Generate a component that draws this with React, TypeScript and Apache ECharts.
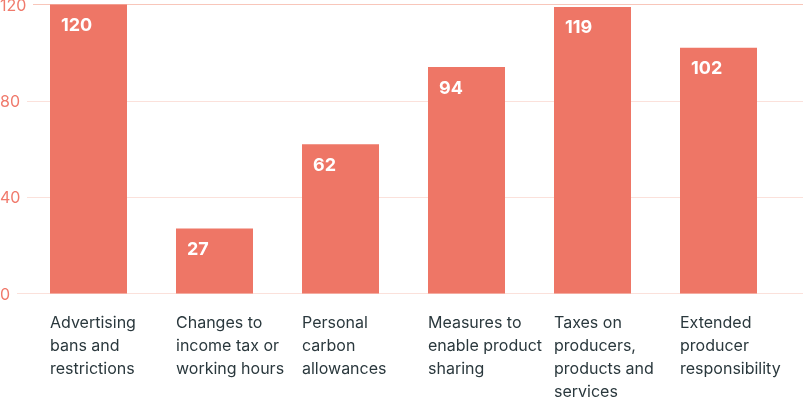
import React, { useEffect, useRef } from "react";
import * as echarts from "echarts";

const categories = [
  "Advertising\nbans and\nrestrictions",
  "Changes to\nincome tax or\nworking hours",
  "Personal\ncarbon\nallowances",
  "Measures to\nenable product\nsharing",
  "Taxes on\nproducers,\nproducts and\nservices",
  "Extended\nproducer\nresponsibility",
];
const values = [120, 27, 62, 94, 119, 102];
const yTicks = [0, 40, 80, 120];

const BAR = "#EE7666";
const AXIS_TEXT = "#F07A6C";
const CAT_TEXT = "#2A383D";
const FONT = "Inter, 'Noto Sans', sans-serif";

function measure(text: string): number {
  const c = document.createElement("canvas").getContext("2d");
  if (!c) return text.length * 8.5;
  c.font = "16px Inter";
  return c.measureText(text).width;
}

export default function App() {
  const ref = useRef<HTMLDivElement>(null);
  useEffect(() => {
    if (!ref.current) return;
    const chart = echarts.init(ref.current, undefined, { renderer: "svg" });
    const gridLines = yTicks.map((v, i) => [
      {
        x: Math.round(measure(String(v)) + 7),
        yAxis: v,
        lineStyle: {
          color: i === yTicks.length - 1 ? "#F8C6BA" : "#FBE1DB",
          width: 1,
          type: "solid",
        },
      },
      { x: "100%", yAxis: v },
    ]);
    chart.setOption({
      animation: false,
      grid: {
        left: 25.5,
        top: 4.5,
        width: 756,
        height: 289,
        containLabel: false,
        outerBoundsMode: "none",
      },
      xAxis: {
        type: "category",
        data: categories,
        axisLine: { show: false },
        axisTick: { show: false },
        axisLabel: {
          interval: 0,
          align: "left",
          padding: [0, 0, 0, -38.5],
          margin: 17,
          fontSize: 16,
          lineHeight: 23,
          color: CAT_TEXT,
          fontFamily: FONT,
        },
      },
      yAxis: {
        type: "value",
        min: 0,
        max: 120,
        interval: 40,
        splitLine: { show: false },
        axisLine: { show: false },
        axisTick: { show: false },
        axisLabel: {
          align: "left",
          margin: 25.5,
          fontSize: 16,
          color: AXIS_TEXT,
          fontFamily: FONT,
        },
      },
      series: [
        {
          type: "line",
          data: [],
          z: 1,
          silent: true,
          markLine: {
            z: 1,
            silent: true,
            symbol: ["none", "none"],
            label: { show: false },
            emphasis: { disabled: true },
            data: gridLines,
          },
        },
        {
          type: "bar",
          z: 2,
          data: values,
          barWidth: 77,
          itemStyle: { color: BAR },
          emphasis: { disabled: true },
          label: {
            show: true,
            position: [11, 11],
            color: "#FFFFFF",
            fontSize: 18,
            fontWeight: "bold",
            lineHeight: 18,
            fontFamily: FONT,
          },
        },
      ],
    });
    return () => chart.dispose();
  }, []);
  return (
    <div
      ref={ref}
      style={{ position: "fixed", left: 0, top: 0, width: 803, height: 398 }}
    />
  );
}
